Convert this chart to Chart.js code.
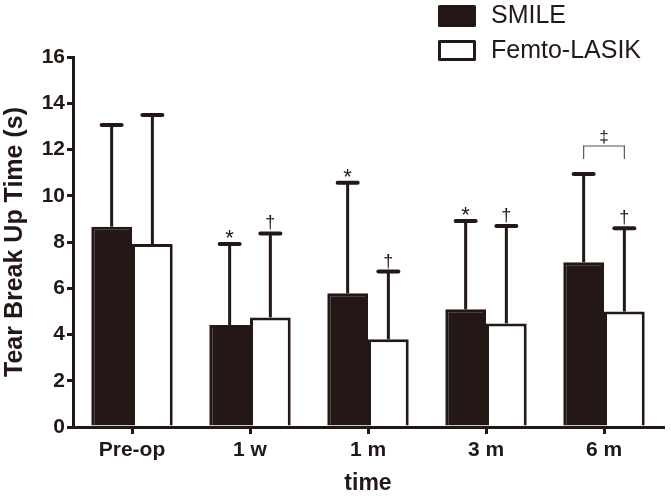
<!DOCTYPE html>
<html>
<head>
<meta charset="utf-8">
<script src="https://cdn.jsdelivr.net/npm/chart.js@4.4.1/dist/chart.umd.min.js"></script>
<style>
  html, body { margin: 0; padding: 0; background: #fff; }
  #wrap { width: 671px; height: 499px; }
</style>
</head>
<body>
<div id="wrap"><canvas id="tbut"></canvas></div>
<script>
// Tear break-up time, SMILE vs Femto-LASIK, mean + SD (seconds)
const timepoints  = ['Pre-op', '1 w', '1 m', '3 m', '6 m'];
const smileMean   = [8.66, 4.41, 5.78, 5.09, 7.12];
const smileSD     = [4.40, 3.50, 4.78, 3.82, 3.82];
const femtoMean   = [7.91, 4.74, 3.79, 4.48, 4.99];
const femtoSD     = [5.58, 3.63, 2.93, 4.21, 3.60];
const smileMarks  = ['', '*', '*', '*', ''];
const femtoMarks  = ['', '\u2020', '\u2020', '\u2020', '\u2020'];
const yTicks      = [0, 2, 4, 6, 8, 10, 12, 14, 16];

const INK = '#231816';
const FONT = '"Liberation Sans", Arial, sans-serif';

// error bars, significance marks, bracket and legend
const extras = {
  id: 'extras',
  afterDatasetsDraw(chart) {
    const { ctx, scales: { y } } = chart;
    const sds = [smileSD, femtoSD];
    const marks = [smileMarks, femtoMarks];
    const topsByIndex = [];
    ctx.save();
    ctx.strokeStyle = INK;
    ctx.fillStyle = INK;
    chart.data.datasets.forEach((ds, di) => {
      const meta = chart.getDatasetMeta(di);
      meta.data.forEach((bar, i) => {
        const top = y.getPixelForValue(ds.data[i] + sds[di][i]);
        topsByIndex[i] = topsByIndex[i] || [];
        topsByIndex[i][di] = { x: bar.x, top };
        ctx.lineCap = 'butt';
        ctx.lineWidth = 3;
        ctx.beginPath();
        ctx.moveTo(bar.x, bar.y);
        ctx.lineTo(bar.x, top);
        ctx.stroke();
        ctx.lineCap = 'round';
        ctx.lineWidth = 4;
        ctx.beginPath();
        ctx.moveTo(bar.x - 10, top);
        ctx.lineTo(bar.x + 10, top);
        ctx.stroke();
        const m = marks[di][i];
        if (m) {
          ctx.font = (m === '*' ? '22px ' : '18px ') + FONT;
          ctx.textAlign = 'center';
          ctx.textBaseline = 'alphabetic';
          ctx.fillText(m, bar.x, top - (m === '*' ? -1 : 5));
        }
      });
    });

    // bracket between groups at 6 m
    const six = topsByIndex[4];
    if (six) {
      const x1 = six[0].x, x2 = six[1].x, by = 146;
      ctx.lineCap = 'butt';
      ctx.lineWidth = 1.2;
      ctx.strokeStyle = '#555';
      ctx.beginPath();
      ctx.moveTo(x1, by + 13);
      ctx.lineTo(x1, by);
      ctx.lineTo(x2, by);
      ctx.lineTo(x2, by + 13);
      ctx.stroke();
      ctx.font = '17px ' + FONT;
      ctx.textAlign = 'center';
      ctx.fillText('\u2021', (x1 + x2) / 2, by - 4);
    }

    // legend
    ctx.lineWidth = 3;
    ctx.strokeStyle = INK;
    ctx.lineJoin = 'round';
    ctx.fillStyle = INK;
    ctx.beginPath();
    ctx.rect(439.5, 6.5, 35, 19);
    ctx.fill();
    ctx.stroke();
    ctx.fillStyle = '#fff';
    ctx.beginPath();
    ctx.rect(439.5, 41.5, 35, 18);
    ctx.fill();
    ctx.stroke();
    ctx.fillStyle = INK;
    ctx.font = '25px ' + FONT;
    ctx.textAlign = 'left';
    ctx.textBaseline = 'middle';
    ctx.fillText('SMILE', 491, 16);
    ctx.fillText('Femto-LASIK', 491, 51);
    ctx.restore();
  }
};

new Chart(document.getElementById('tbut'), {
  type: 'bar',
  data: {
    labels: timepoints,
    datasets: [
      { label: 'SMILE',       data: smileMean, backgroundColor: INK,    borderColor: INK, borderWidth: 3 },
      { label: 'Femto-LASIK', data: femtoMean, backgroundColor: '#fff', borderColor: INK, borderWidth: 3 },
    ],
  },
  options: {
    responsive: true,
    maintainAspectRatio: false,
    animation: false,
    devicePixelRatio: 1,
    categoryPercentage: 0.69,
    barPercentage: 1.0,
    layout: { padding: { top: 57, right: 8, left: 0, bottom: 0 } },
    plugins: {
      legend: { display: false },
      tooltip: { enabled: false },
    },
    scales: {
      x: {
        grid:   { offset: false, drawOnChartArea: false, drawTicks: true, tickLength: 7, color: INK, lineWidth: 3 },
        border: { color: INK, width: 3 },
        ticks:  { color: INK, font: { family: FONT, size: 21, weight: 'bold' }, padding: 4 },
        title:  { display: true, text: 'time', color: INK, font: { family: FONT, size: 23, weight: 'bold' }, padding: { top: 2, bottom: 2 } },
        afterFit: s => { s.height = 72; },
      },
      y: {
        min: 0,
        max: 16,
        afterBuildTicks: s => { s.ticks = yTicks.map(v => ({ value: v })); },
        grid:   { drawOnChartArea: false, drawTicks: true, tickLength: 6, color: INK, lineWidth: 3 },
        border: { color: INK, width: 3 },
        ticks:  { color: INK, font: { family: FONT, size: 21, weight: 'bold' }, padding: 2 },
        title:  { display: true, text: 'Tear Break Up Time (s)', color: INK, font: { family: FONT, size: 25, weight: 'bold' }, padding: { top: 0, bottom: 0 } },
        afterFit: s => { s.width = 73; },
      },
    },
  },
  plugins: [extras],
});
</script>
</body>
</html>
